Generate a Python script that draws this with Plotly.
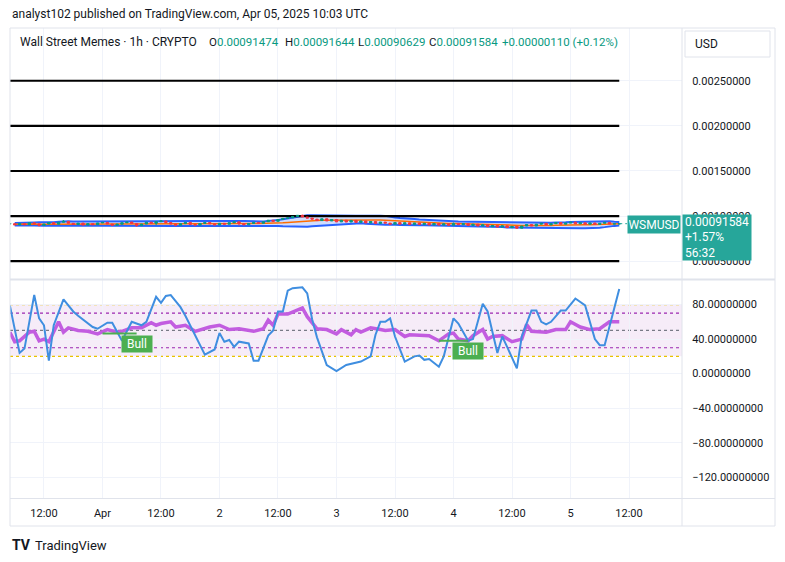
import pandas as pd
import plotly.graph_objects as go

BASE = pd.Timestamp("2025-03-31 00:00")

# ---------------- data ----------------
# hourly candles, hour offsets from 2025-03-31 00:00 (5 .. 130)
candle_hours = list(range(5, 131))
# closes in units of 1e-8 USD
close_e8 = [
    91600, 90200, 91800, 90400, 92600, 91400, 89600, 91200, 92800, 91000,
    93200, 94200, 92000, 90600, 92200, 90000, 91600, 90400, 92400, 93000,
    91200, 89800, 91000, 92600, 93400, 91800, 89400, 91200, 93200, 92000,
    93800, 94600, 92800, 91200, 89800, 91600, 93000, 90800, 90000, 91800,
    92800, 91400, 90200, 92000, 91000, 92600, 93600, 91600, 90400, 91800,
    93000, 92000, 93800, 95400, 94200, 96200, 97400, 98000, 99600, 100800,
    99000, 97800, 96600, 95000, 97000, 94600, 96200, 93600, 95400, 93400,
    95200, 93000, 94600, 92400, 94000, 91800, 93400, 92200, 91000, 92800,
    91000, 92600, 90600, 92400, 90600, 92000, 90200, 91800, 90000, 91400,
    89800, 91800, 90400, 91600, 89600, 91000, 89000, 90400, 88200, 89600,
    87800, 89200, 87200, 88600, 86600, 89000, 90600, 89000, 91000, 92000,
    90200, 91600, 92800, 91000, 92200, 93200, 91400, 92600, 91000, 92400,
    90800, 92000, 93000, 91200, 91474, 91584,
]
first_open_e8 = 91400
wick_high_e8 = {16: 95600, 64: 100200, 65: 101600, 96: 92800, 121: 93800, 130: 91644}
wick_low_e8 = {8: 89600, 11: 88600, 31: 88400, 35: 89800, 39: 88900, 52: 89600,
               109: 85800, 130: 90629}

# user-drawn horizontal levels
levels = [0.0005, 0.0010, 0.0015, 0.0020, 0.0025]

# oscillator (blue, thin)
k_hours = [5, 7, 8, 10, 11, 12, 13, 14, 16, 18, 19, 22, 23, 25, 26, 28, 30, 32, 33, 35,
           36, 37, 38, 40, 41, 43, 45, 47, 48, 49, 50, 51, 52, 54, 55, 56, 58, 59, 60, 61,
           62, 63, 65, 66, 67, 68, 69, 70, 72, 74, 77, 79, 80, 81, 82, 83, 84, 86, 88, 89,
           90, 91, 93, 94, 96, 97, 99, 100, 102, 103, 105, 106, 107, 109, 110, 112, 113, 114,
           115, 116, 118, 119, 121, 123, 125, 126, 127, 130]
k_vals = [79, 24, 29, 91, 64, 56, 15, 56, 86, 72, 67, 54, 52, 59, 59, 38, 60, 56, 60, 89,
          82, 90, 91, 77, 67, 44, 22, 28, 47, 37, 39, 31, 37, 35, 15, 15, 44, 50, 72, 72,
          96, 99, 100, 93, 63, 42, 25, 10, 3, 10, 14, 20, 45, 60, 60, 64, 43, 14, 20, 21,
          16, 17, 8, 20, 64, 58, 38, 40, 81, 72, 24, 43, 31, 6, 43, 73, 73, 60,
          57, 60, 73, 73, 87, 79, 40, 33, 33, 98]

# oscillator (purple, thick)
r_hours = [5, 6, 7, 9, 10, 11, 12, 13, 15, 16, 17, 19, 21, 23, 25, 27, 28, 30, 32, 34,
           35, 36, 38, 39, 41, 43, 46, 48, 50, 52, 55, 57, 58, 59, 60, 62, 65, 66, 68, 70,
           72, 73, 75, 76, 77, 79, 81, 82, 84, 86, 87, 89, 91, 93, 95, 96, 97, 99, 100, 102,
           103, 104, 106, 108, 110, 111, 112, 115, 117, 119, 120, 122, 124, 126, 128, 130]
r_vals = [48, 37, 38, 48, 49, 38, 40, 37, 60, 48, 53, 50, 49, 46, 51, 48, 49, 53, 53, 59,
          56, 58, 60, 54, 56, 49, 54, 56, 51, 52, 49, 52, 62, 56, 69, 69, 76, 66, 52, 51,
          46, 51, 45, 51, 48, 53, 51, 50, 51, 43, 45, 44, 44, 38, 46, 47, 40, 38, 44, 51,
          40, 43, 44, 37, 40, 57, 49, 48, 51, 51, 60, 54, 51, 52, 60, 60]

# "Bull" divergence marks: (start hour, end hour, level)
bull_marks = [(24, 31, 46.5), (93, 99, 38.0)]

x_tick_hours = [12, 24, 36, 48, 60, 72, 84, 96, 108, 120, 132]
x_tick_text = ["12:00", "Apr", "12:00", "2", "12:00", "3", "12:00", "4", "12:00", "5", "12:00"]
price_ticks = [0.0005, 0.0010, 0.0015, 0.0020, 0.0025]
osc_ticks = [-120, -80, -40, 0, 40, 80]

# ---------------- derived ----------------
def T(h):
    return BASE + pd.Timedelta(hours=h)

ct = [T(h) for h in candle_hours]
close = [c / 1e8 for c in close_e8]
opens = [first_open_e8 / 1e8] + close[:-1]
high = []
low = []
for h, o, c in zip(candle_hours, opens, close):
    high.append(wick_high_e8[h] / 1e8 if h in wick_high_e8 else max(o, c))
    low.append(wick_low_e8[h] / 1e8 if h in wick_low_e8 else min(o, c))

s = pd.Series(close)
mid = s.rolling(20, min_periods=2).mean()
sd = s.rolling(20, min_periods=2).std(ddof=0)
upper = mid + 2 * sd
lower = mid - 2 * sd

# ---------------- layout helpers ----------------
W, H = 785, 562
L, R, TOP, BOT = 10, 682, 28, 498
SEP = 279.5
PRICE_RANGE = [0.000297, 0.003085]

def px(x):
    return (x - L) / (R - L)

def py(y):
    return (BOT - y) / (BOT - TOP)

TEAL = "#26a69a"
TXT = "#131722"
GRID = "#f0f3fa"
BORDER = "#e0e3eb"
FONT = "Roboto"

fig = go.Figure()

# Bollinger band
fig.add_trace(go.Scatter(x=ct, y=upper, mode="lines", line=dict(color="#2962ff", width=2),
                         xaxis="x", yaxis="y", hoverinfo="skip"))
fig.add_trace(go.Scatter(x=ct, y=lower, mode="lines", line=dict(color="#2962ff", width=2),
                         fill="tonexty", fillcolor="rgba(41,98,255,0.22)",
                         xaxis="x", yaxis="y", hoverinfo="skip"))
fig.add_trace(go.Scatter(x=ct, y=mid, mode="lines", line=dict(color="#ff6d00", width=1.5),
                         xaxis="x", yaxis="y", hoverinfo="skip"))

# horizontal drawn levels
for lv in levels:
    fig.add_trace(go.Scatter(x=[ct[0], ct[-1]], y=[lv, lv], mode="lines",
                             line=dict(color="#000000", width=2.2),
                             xaxis="x", yaxis="y", hoverinfo="skip"))

# candles on an overlaying axis so they draw above the band lines
fig.add_trace(go.Candlestick(x=ct, open=opens, high=high, low=low, close=close,
                             increasing=dict(line=dict(color="#089981", width=1), fillcolor="#089981"),
                             decreasing=dict(line=dict(color="#f23645", width=1), fillcolor="#f23645"),
                             whiskerwidth=0, xaxis="x", yaxis="y3", hoverinfo="skip"))

# last price dotted line
fig.add_trace(go.Scatter(x=[ct[-1], T(131.6)], y=[close[-1], close[-1]], mode="lines",
                         line=dict(color=TEAL, width=1, dash="dot"), xaxis="x", yaxis="y3",
                         hoverinfo="skip", cliponaxis=False))

# oscillators
fig.add_trace(go.Scatter(x=[T(h) for h in r_hours], y=r_vals, mode="lines",
                         line=dict(color="#c25de0", width=3.5), xaxis="x", yaxis="y2",
                         hoverinfo="skip"))
fig.add_trace(go.Scatter(x=[T(h) for h in k_hours], y=k_vals, mode="lines",
                         line=dict(color="#3f8ee0", width=2), xaxis="x", yaxis="y2",
                         hoverinfo="skip"))

# bull lines
for h0, h1, lv in bull_marks:
    fig.add_trace(go.Scatter(x=[T(h0), T(h1)], y=[lv, lv], mode="lines",
                             line=dict(color="#4caf50", width=2), xaxis="x", yaxis="y2",
                             hoverinfo="skip"))

shapes = []
# oscillator band fill and dotted levels
shapes.append(dict(type="rect", xref="paper", yref="y2", x0=0, x1=1, y0=20, y1=80,
                   fillcolor="rgba(156,39,176,0.09)", line=dict(width=0), layer="below"))
for lv, col in [(80, "#e8c200"), (20, "#e8c200"), (70, "#9c27b0"), (30, "#9c27b0"), (50, "#787b86")]:
    shapes.append(dict(type="line", xref="paper", yref="y2", x0=0, x1=1, y0=lv, y1=lv,
                       line=dict(color=col, width=1.2, dash="dot"), layer="below"))

# frame, separators
shapes.append(dict(type="rect", xref="paper", yref="paper", x0=px(10), x1=px(775),
                   y0=py(526), y1=py(28), line=dict(color=BORDER, width=1)))
shapes.append(dict(type="line", xref="paper", yref="paper", x0=px(10), x1=px(775),
                   y0=py(SEP), y1=py(SEP), line=dict(color=BORDER, width=2)))
shapes.append(dict(type="line", xref="paper", yref="paper", x0=px(10), x1=px(775),
                   y0=py(498.5), y1=py(498.5), line=dict(color=BORDER, width=1)))
shapes.append(dict(type="line", xref="paper", yref="paper", x0=px(682), x1=px(682),
                   y0=py(526), y1=py(28), line=dict(color=BORDER, width=1)))
# USD box
shapes.append(dict(type="rect", xref="paper", yref="paper", x0=px(685), x1=px(770),
                   y0=py(57), y1=py(31), line=dict(color=BORDER, width=1)))

ann = []
ann.append(dict(xref="paper", yref="paper", x=px(10), y=py(14), xanchor="left", yanchor="middle",
                text="analyst102 published on TradingView.com, Apr 05, 2025 10:03 UTC",
                showarrow=False, font=dict(family=FONT, size=12, color=TXT)))

o_l, h_l, l_l, c_l = opens[-1], high[-1], low[-1], close[-1]
chg = c_l - o_l
vc = "#089981"
ann.append(dict(xref="paper", yref="paper", x=px(18), y=py(42), xanchor="left", yanchor="middle",
                text="Wall Street Memes · 1h · CRYPTO", showarrow=False,
                font=dict(family=FONT, size=12, color=TXT)))
legend_items = [
    (207, f"O<span style='color:{vc}'>{o_l:.8f}</span>"),
    (283, f"H<span style='color:{vc}'>{h_l:.8f}</span>"),
    (356, f"L<span style='color:{vc}'>{l_l:.8f}</span>"),
    (427, f"C<span style='color:{vc}'>{c_l:.8f}</span>"),
    (500, f"<span style='color:{vc}'>+{chg:.8f} (+{chg / o_l * 100:.2f}%)</span>"),
]
for xx, tx in legend_items:
    ann.append(dict(xref="paper", yref="paper", x=px(xx), y=py(42), xanchor="left",
                    yanchor="middle", text=tx, showarrow=False,
                    font=dict(family=FONT, size=11.5, color=TXT)))
ann.append(dict(xref="paper", yref="paper", x=px(693), y=py(44), xanchor="left", yanchor="middle",
                text="USD", showarrow=False, font=dict(family=FONT, size=12, color=TXT)))
# symbol tag + price tag
ann.append(dict(xref="paper", yref="paper", x=px(627), y=py(224), xanchor="left", yanchor="middle",
                text="WSMUSD", showarrow=False, bgcolor=TEAL, width=50, height=15, borderpad=1,
                font=dict(family=FONT, size=12, color="white")))
ann.append(dict(xref="paper", yref="paper", x=px(682), y=py(237.5), xanchor="left", yanchor="middle",
                text=f"{c_l:.8f}<br>+1.57%<br>56:32", align="left", showarrow=False, bgcolor=TEAL,
                width=64, height=41, borderpad=2,
                font=dict(family=FONT, size=12, color="white")))
# bull labels
for h0, h1, lv in bull_marks:
    ann.append(dict(xref="x", yref="y2", x=T(h1), y=lv, yshift=-10.5, xanchor="center",
                    yanchor="middle", text="Bull", showarrow=False, bgcolor="#4caf50",
                    width=28, height=14, borderpad=1,
                    font=dict(family=FONT, size=12, color="white")))
# TradingView logo
ann.append(dict(xref="paper", yref="paper", x=px(10), y=py(545), xanchor="left", yanchor="middle",
                text="<b>TV</b>", showarrow=False, font=dict(family=FONT, size=14, color=TXT)))
ann.append(dict(xref="paper", yref="paper", x=px(33), y=py(545), xanchor="left", yanchor="middle",
                text="TradingView", showarrow=False, font=dict(family=FONT, size=13, color=TXT)))

fig.update_layout(
    width=W, height=H, margin=dict(l=L, r=W - R, t=TOP, b=H - BOT),
    paper_bgcolor="white", plot_bgcolor="white", showlegend=False, hovermode=False,
    font=dict(family=FONT, size=11, color=TXT),
    xaxis=dict(domain=[0, 1], anchor="y2", range=[T(5.03), T(142.87)], type="date",
               tickvals=[T(h) for h in x_tick_hours], ticktext=x_tick_text,
               showgrid=True, gridcolor=GRID, gridwidth=1, zeroline=False, showline=False,
               ticks="outside", ticklen=5, tickcolor="rgba(0,0,0,0)",
               tickfont=dict(family=FONT, size=11, color=TXT), rangeslider=dict(visible=False)),
    yaxis=dict(domain=[py(SEP), 1], anchor="x", side="right",
               range=PRICE_RANGE, tickvals=price_ticks, tickformat=".8f",
               showgrid=True, gridcolor=GRID, zeroline=False, showline=False,
               ticks="outside", ticklen=7, tickcolor="rgba(0,0,0,0)",
               tickfont=dict(family=FONT, size=11, color=TXT)),
    yaxis3=dict(overlaying="y", anchor="x", side="right", range=PRICE_RANGE,
                showticklabels=False, showgrid=False, zeroline=False, showline=False,
                ticks=""),
    yaxis2=dict(domain=[0, py(SEP)], anchor="x", side="right",
                range=[-144, 109], tickvals=osc_ticks, tickformat=".8f",
                showgrid=True, gridcolor=GRID, zeroline=False, showline=False,
                ticks="outside", ticklen=7, tickcolor="rgba(0,0,0,0)",
                tickfont=dict(family=FONT, size=11, color=TXT)),
    shapes=shapes, annotations=ann,
)

fig.write_html("out.html")
